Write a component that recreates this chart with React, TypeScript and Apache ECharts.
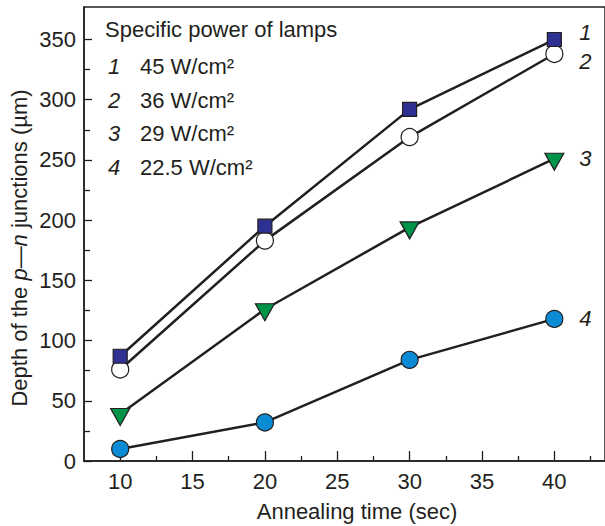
import React, { useEffect, useRef } from "react";
import * as echarts from "echarts";

const times = [10, 20, 30, 40];
const seriesNumbers = ["1", "2", "3", "4"];
const powers = ["45 W/cm²", "36 W/cm²", "29 W/cm²", "22.5 W/cm²"];
const depth1 = [87, 195, 292, 350];
const depth2 = [76, 183, 269, 338];
const depth3 = [39, 126, 194, 251];
const depth4 = [10, 32, 84, 118];
const xMajorTicks = [10, 15, 20, 25, 30, 35, 40];
const xMinorTicks = [12.5, 17.5, 22.5, 27.5, 32.5, 37.5, 42.5];
const yMajorTicks = [0, 50, 100, 150, 200, 250, 300, 350];
const yMinorTicks = [25, 75, 125, 175, 225, 275, 325];
const legendTitle = "Specific power of lamps";
const xTitle = "Annealing time (sec)";

const FONT = "'Liberation Sans', Arial, Helvetica, sans-serif";
const INK = "#231f20";
const FS = 22;

export default function App() {
  const ref = useRef<HTMLDivElement>(null);
  useEffect(() => {
    if (!ref.current) return;
    const chart = echarts.init(ref.current, null, { renderer: "svg" });
    const pts = (arr: number[]) => arr.map((v, i) => [times[i], v]);
    const lineStyle = { color: INK, width: 2.5 };
    const endLabel = (idx: number, offset: number[]) => ({
      show: true,
      formatter: seriesNumbers[idx],
      fontSize: FS,
      fontStyle: "italic",
      fontFamily: FONT,
      color: INK,
      distance: 25,
      offset,
    });
    const seriesDefs = [
      { data: depth2, symbol: "circle", size: 17, color: "#ffffff", rotate: 0, z: 2, off: [0, 8], so: [0, 0] },
      { data: depth1, symbol: "rect", size: 14, color: "#2e3192", rotate: 0, z: 3, off: [0, -7], so: [0, 0] },
      { data: depth3, symbol: "triangle", size: [19, 17], color: "#00944a", rotate: 180, z: 2, off: [0, 0], so: [0, 3] },
      { data: depth4, symbol: "circle", size: 17, color: "#0b8bd3", rotate: 0, z: 2, off: [0, 0], so: [0, 0] },
    ];
    const idxOf = [1, 0, 2, 3];
    const legendRows = [66, 100, 133, 167];
    const graphic: any[] = [
      {
        type: "text",
        x: 105,
        y: 29,
        style: { text: legendTitle, fontSize: FS, fontFamily: FONT, fill: INK, textVerticalAlign: "middle" },
      },
      {
        type: "text",
        x: 357,
        y: 511,
        style: { text: xTitle, fontSize: FS, fontFamily: FONT, fill: INK, textAlign: "center", textVerticalAlign: "middle" },
      },
      {
        type: "text",
        x: 19,
        y: 248,
        rotation: Math.PI / 2,
        style: {
          text: "{a|Depth of the }{b|p}{a|—}{b|n}{a| junctions (µm)}",
          textAlign: "center",
          textVerticalAlign: "middle",
          rich: {
            a: { fontSize: FS, fontFamily: FONT, fill: INK, color: INK },
            b: { fontSize: FS, fontFamily: FONT, fontStyle: "italic", fill: INK, color: INK },
          },
        },
      },
    ];
    powers.forEach((p, i) => {
      graphic.push({
        type: "text",
        x: 108,
        y: legendRows[i],
        style: { text: seriesNumbers[i], fontSize: FS, fontStyle: "italic", fontFamily: FONT, fill: INK, textVerticalAlign: "middle" },
      });
      graphic.push({
        type: "text",
        x: 140,
        y: legendRows[i],
        style: { text: p, fontSize: FS, fontFamily: FONT, fill: INK, textVerticalAlign: "middle" },
      });
    });

    const option: any = {
      animation: false,
      backgroundColor: "#ffffff",
      grid: {
        left: 84,
        right: -2,
        top: 7,
        bottom: 65,
        show: true,
        borderColor: INK,
        borderWidth: 1.5,
        backgroundColor: "transparent",
      },
      xAxis: [
        {
          type: "value",
          min: 7.5,
          max: 43.5,
          position: "bottom",
          axisLine: { show: true, lineStyle: { color: INK, width: 1.5 } },
          axisTick: { show: true, inside: true, length: 10, customValues: xMajorTicks, lineStyle: { color: INK, width: 1.3 } },
          axisLabel: { customValues: xMajorTicks, fontSize: FS, fontFamily: FONT, color: INK, margin: 9 },
          splitLine: { show: false },
        },
        {
          type: "value",
          min: 7.5,
          max: 43.5,
          position: "bottom",
          axisLine: { show: false },
          axisTick: { show: true, inside: true, length: 5, customValues: xMinorTicks, lineStyle: { color: INK, width: 1.3 } },
          axisLabel: { show: false },
          splitLine: { show: false },
        },
      ],
      yAxis: [
        {
          type: "value",
          min: 0,
          max: 377,
          position: "left",
          axisLine: { show: true, lineStyle: { color: INK, width: 1.5 } },
          axisTick: { show: true, inside: true, length: 8, customValues: yMajorTicks, lineStyle: { color: INK, width: 1.3 } },
          axisLabel: { customValues: yMajorTicks, fontSize: FS, fontFamily: FONT, color: INK, margin: 8 },
          splitLine: { show: false },
        },
        {
          type: "value",
          min: 0,
          max: 377,
          position: "left",
          axisLine: { show: false },
          axisTick: { show: true, inside: true, length: 6, customValues: yMinorTicks, lineStyle: { color: INK, width: 1.3 } },
          axisLabel: { show: false },
          splitLine: { show: false },
        },
      ],
      series: seriesDefs.map((s, k) => ({
        type: "line",
        name: powers[idxOf[k]],
        data: pts(s.data),
        xAxisIndex: 0,
        yAxisIndex: 0,
        z: s.z,
        symbol: s.symbol,
        symbolSize: s.size,
        symbolRotate: s.rotate,
        symbolOffset: s.so,
        showAllSymbol: true,
        lineStyle,
        itemStyle: { color: s.color, borderColor: INK, borderWidth: 1.2 },
        endLabel: endLabel(idxOf[k], s.off),
        emphasis: { disabled: true },
      })),
      graphic,
    };
    chart.setOption(option);
    return () => chart.dispose();
  }, []);
  return <div ref={ref} style={{ position: "absolute", left: 0, top: 0, width: 605, height: 526 }} />;
}
